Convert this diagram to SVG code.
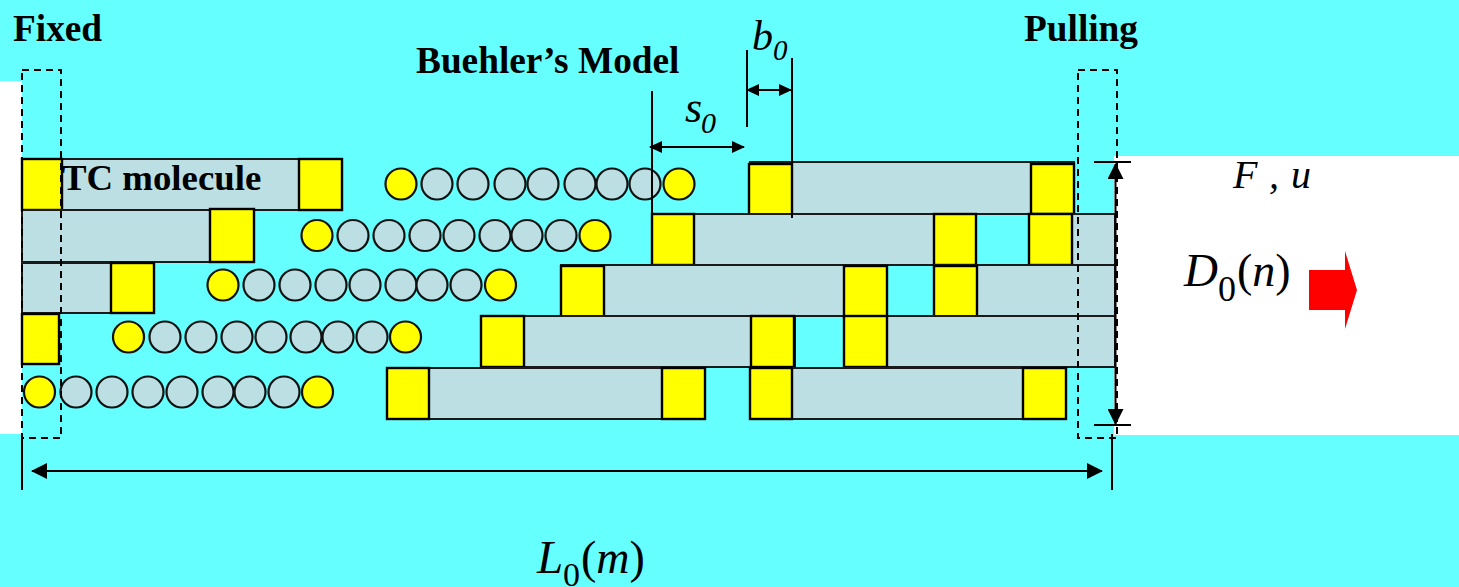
<svg xmlns="http://www.w3.org/2000/svg" width="1459" height="587" viewBox="0 0 1459 587">
<style>
.bar{fill:#bbdfe3;stroke:#1a1a1a;stroke-width:2}
.sq{fill:#ffff00;stroke:#000;stroke-width:2.4}
.c{fill:#bbdfe3;stroke:#111;stroke-width:2.2}
.y{fill:#ffff00;stroke:#111;stroke-width:2.2}
.dash{fill:none;stroke:#000;stroke-width:2;stroke-dasharray:7 5}
.ln{fill:none;stroke:#000;stroke-width:2}
.b{font-family:"Liberation Serif",serif;font-weight:bold;font-size:37.300px;fill:#000}
.i{font-family:"Liberation Serif",serif;font-style:italic;fill:#000}
.r{font-family:"Liberation Serif",serif;fill:#000}
</style>
<defs>
<marker id="ah" markerUnits="userSpaceOnUse" markerWidth="16" markerHeight="16" refX="15" refY="8" orient="auto-start-reverse"><path d="M0 0L16 8L0 16Z" fill="#000"/></marker>
<marker id="as" markerUnits="userSpaceOnUse" markerWidth="13" markerHeight="12" refX="12" refY="6" orient="auto-start-reverse"><path d="M0 0L13 6L0 12Z" fill="#000"/></marker>
</defs>
<rect width="1459" height="587" fill="#66ffff"/>
<rect x="0" y="81" width="22" height="353" fill="#fff"/>
<rect x="1114" y="156" width="345" height="279" fill="#fff"/>

<g id="left-molecules">
<rect class="bar" x="22" y="159" width="320" height="51"/>
<rect class="sq" x="22" y="159" width="40" height="51"/>
<rect class="sq" x="299" y="159" width="43" height="51"/>
<rect class="bar" x="22" y="210" width="232" height="52"/>
<rect class="sq" x="210" y="209" width="44" height="53"/>
<rect class="bar" x="22" y="263" width="132" height="50"/>
<rect class="sq" x="111" y="263" width="43" height="50"/>
<rect class="sq" x="22" y="314" width="37" height="50"/>
</g>

<g id="beads">
<g id="beads-1"><circle class="y" cx="401" cy="184" r="15.500"/><circle class="c" cx="437" cy="184" r="15.500"/><circle class="c" cx="473" cy="184" r="15.500"/><circle class="c" cx="510" cy="184" r="15.500"/><circle class="c" cx="543" cy="184" r="15.500"/><circle class="c" cx="580" cy="184" r="15.500"/><circle class="c" cx="612" cy="184" r="15.500"/><circle class="c" cx="645" cy="184" r="15.500"/><circle class="y" cx="679" cy="184" r="15.500"/></g>
<g id="beads-2"><circle class="y" cx="317" cy="235.500" r="15.500"/><circle class="c" cx="353" cy="235.500" r="15.500"/><circle class="c" cx="389" cy="235.500" r="15.500"/><circle class="c" cx="425" cy="235.500" r="15.500"/><circle class="c" cx="459" cy="235.500" r="15.500"/><circle class="c" cx="495" cy="235.500" r="15.500"/><circle class="c" cx="527" cy="235.500" r="15.500"/><circle class="c" cx="561" cy="235.500" r="15.500"/><circle class="y" cx="595" cy="235.500" r="15.500"/></g>
<g id="beads-3"><circle class="y" cx="223" cy="285" r="15.500"/><circle class="c" cx="259" cy="285" r="15.500"/><circle class="c" cx="295" cy="285" r="15.500"/><circle class="c" cx="331" cy="285" r="15.500"/><circle class="c" cx="365" cy="285" r="15.500"/><circle class="c" cx="401" cy="285" r="15.500"/><circle class="c" cx="432" cy="285" r="15.500"/><circle class="c" cx="466" cy="285" r="15.500"/><circle class="y" cx="500.500" cy="285" r="15.500"/></g>
<g id="beads-4"><circle class="y" cx="128.500" cy="337" r="15.500"/><circle class="c" cx="165" cy="337" r="15.500"/><circle class="c" cx="201" cy="337" r="15.500"/><circle class="c" cx="237" cy="337" r="15.500"/><circle class="c" cx="271" cy="337" r="15.500"/><circle class="c" cx="306" cy="337" r="15.500"/><circle class="c" cx="338" cy="337" r="15.500"/><circle class="c" cx="372" cy="337" r="15.500"/><circle class="y" cx="405.500" cy="337" r="15.500"/></g>
<g id="beads-5"><circle class="y" cx="39.500" cy="392" r="15.500"/><circle class="c" cx="76" cy="392" r="15.500"/><circle class="c" cx="112" cy="392" r="15.500"/><circle class="c" cx="148" cy="392" r="15.500"/><circle class="c" cx="182" cy="392" r="15.500"/><circle class="c" cx="218" cy="392" r="15.500"/><circle class="c" cx="250" cy="392" r="15.500"/><circle class="c" cx="284" cy="392" r="15.500"/><circle class="y" cx="317.500" cy="392" r="15.500"/></g>
</g>

<g id="right-molecules">
<rect class="bar" x="750" y="162" width="324" height="52"/>
<rect class="sq" x="749" y="164" width="43" height="51"/>
<rect class="sq" x="1031" y="164" width="43" height="50"/>
<rect class="bar" x="652" y="214" width="324" height="51"/>
<rect class="bar" x="1029" y="214" width="86" height="51"/>
<rect class="sq" x="652" y="214" width="42" height="51"/>
<rect class="sq" x="934" y="214" width="42" height="51"/>
<rect class="sq" x="1029" y="214" width="43" height="51"/>
<rect class="bar" x="561" y="265" width="326" height="51"/>
<rect class="bar" x="934" y="265" width="181" height="51"/>
<rect class="sq" x="561" y="266" width="43" height="51"/>
<rect class="sq" x="844" y="266" width="43" height="51"/>
<rect class="sq" x="934" y="266" width="43" height="51"/>
<rect class="bar" x="481" y="316" width="314" height="51"/>
<rect class="bar" x="844" y="316" width="271" height="51"/>
<rect class="sq" x="481" y="316" width="43" height="51"/>
<rect class="sq" x="751" y="316" width="43" height="51"/>
<rect class="sq" x="844" y="316" width="43" height="51"/>
<rect class="bar" x="387" y="368" width="318" height="51"/>
<rect class="bar" x="750" y="368" width="316" height="51"/>
<rect class="sq" x="387" y="368" width="42" height="51"/>
<rect class="sq" x="662" y="368" width="43" height="51"/>
<rect class="sq" x="750" y="368" width="42" height="51"/>
<rect class="sq" x="1023" y="368" width="43" height="51"/>
</g>

<g id="supports">
<rect class="dash" x="22" y="70" width="39" height="368"/>
<rect class="dash" x="1078" y="70" width="39" height="368"/>
</g>

<g id="connectors">
<line class="ln" x1="22" y1="438" x2="22" y2="490"/>
<line class="ln" x1="1112" y1="434" x2="1112" y2="490"/>
<line class="ln" x1="32" y1="471" x2="1102" y2="471" marker-start="url(#ah)" marker-end="url(#ah)"/>
<line class="ln" x1="1094" y1="162" x2="1131" y2="162"/>
<line class="ln" x1="1094" y1="425" x2="1131" y2="425"/>
<line class="ln" x1="1115.500" y1="164" x2="1115.500" y2="424" stroke-width="2.500" marker-start="url(#ah)" marker-end="url(#ah)"/>
<line class="ln" x1="652" y1="91" x2="652" y2="214"/>
<line class="ln" x1="747" y1="50" x2="747" y2="127"/>
<line class="ln" x1="792" y1="58" x2="792" y2="218"/>
<line class="ln" x1="650" y1="147" x2="744" y2="147" marker-start="url(#as)" marker-end="url(#as)"/>
<line class="ln" x1="747" y1="90" x2="791" y2="90" marker-start="url(#as)" marker-end="url(#as)"/>
</g>

<g id="load-arrow"><path d="M1309 270H1345V251L1357 290L1345 329V310H1309Z" fill="#ff0000"/></g>

<g id="labels">
<text class="b" x="13" y="41">Fixed</text>
<text class="b" x="1024" y="41">Pulling</text>
<text class="b" x="416" y="73">Buehler’s Model</text>
<text class="b" x="62" y="190" style="font-size:36.800px">TC molecule</text>
<text class="i" x="752" y="50" font-size="42">b</text>
<text class="i" x="773" y="60" font-size="29">0</text>
<text class="i" x="685" y="122" font-size="44">s</text>
<text class="i" x="701" y="133" font-size="30">0</text>
<text class="i" y="188" font-size="40"><tspan x="1233">F</tspan><tspan x="1269">,</tspan><tspan x="1291">u</tspan></text>
<text class="i" x="1184" y="286" font-size="47">D</text>
<text class="r" x="1218" y="301" font-size="36">0</text>
<text class="r" x="1237" y="286" font-size="46">(<tspan font-style="italic">n</tspan>)</text>
<text class="i" x="537" y="573" font-size="47">L</text>
<text class="r" x="563" y="586" font-size="34">0</text>
<text class="r" x="581" y="573" font-size="46">(<tspan font-style="italic">m</tspan>)</text>
</g>
</svg>
